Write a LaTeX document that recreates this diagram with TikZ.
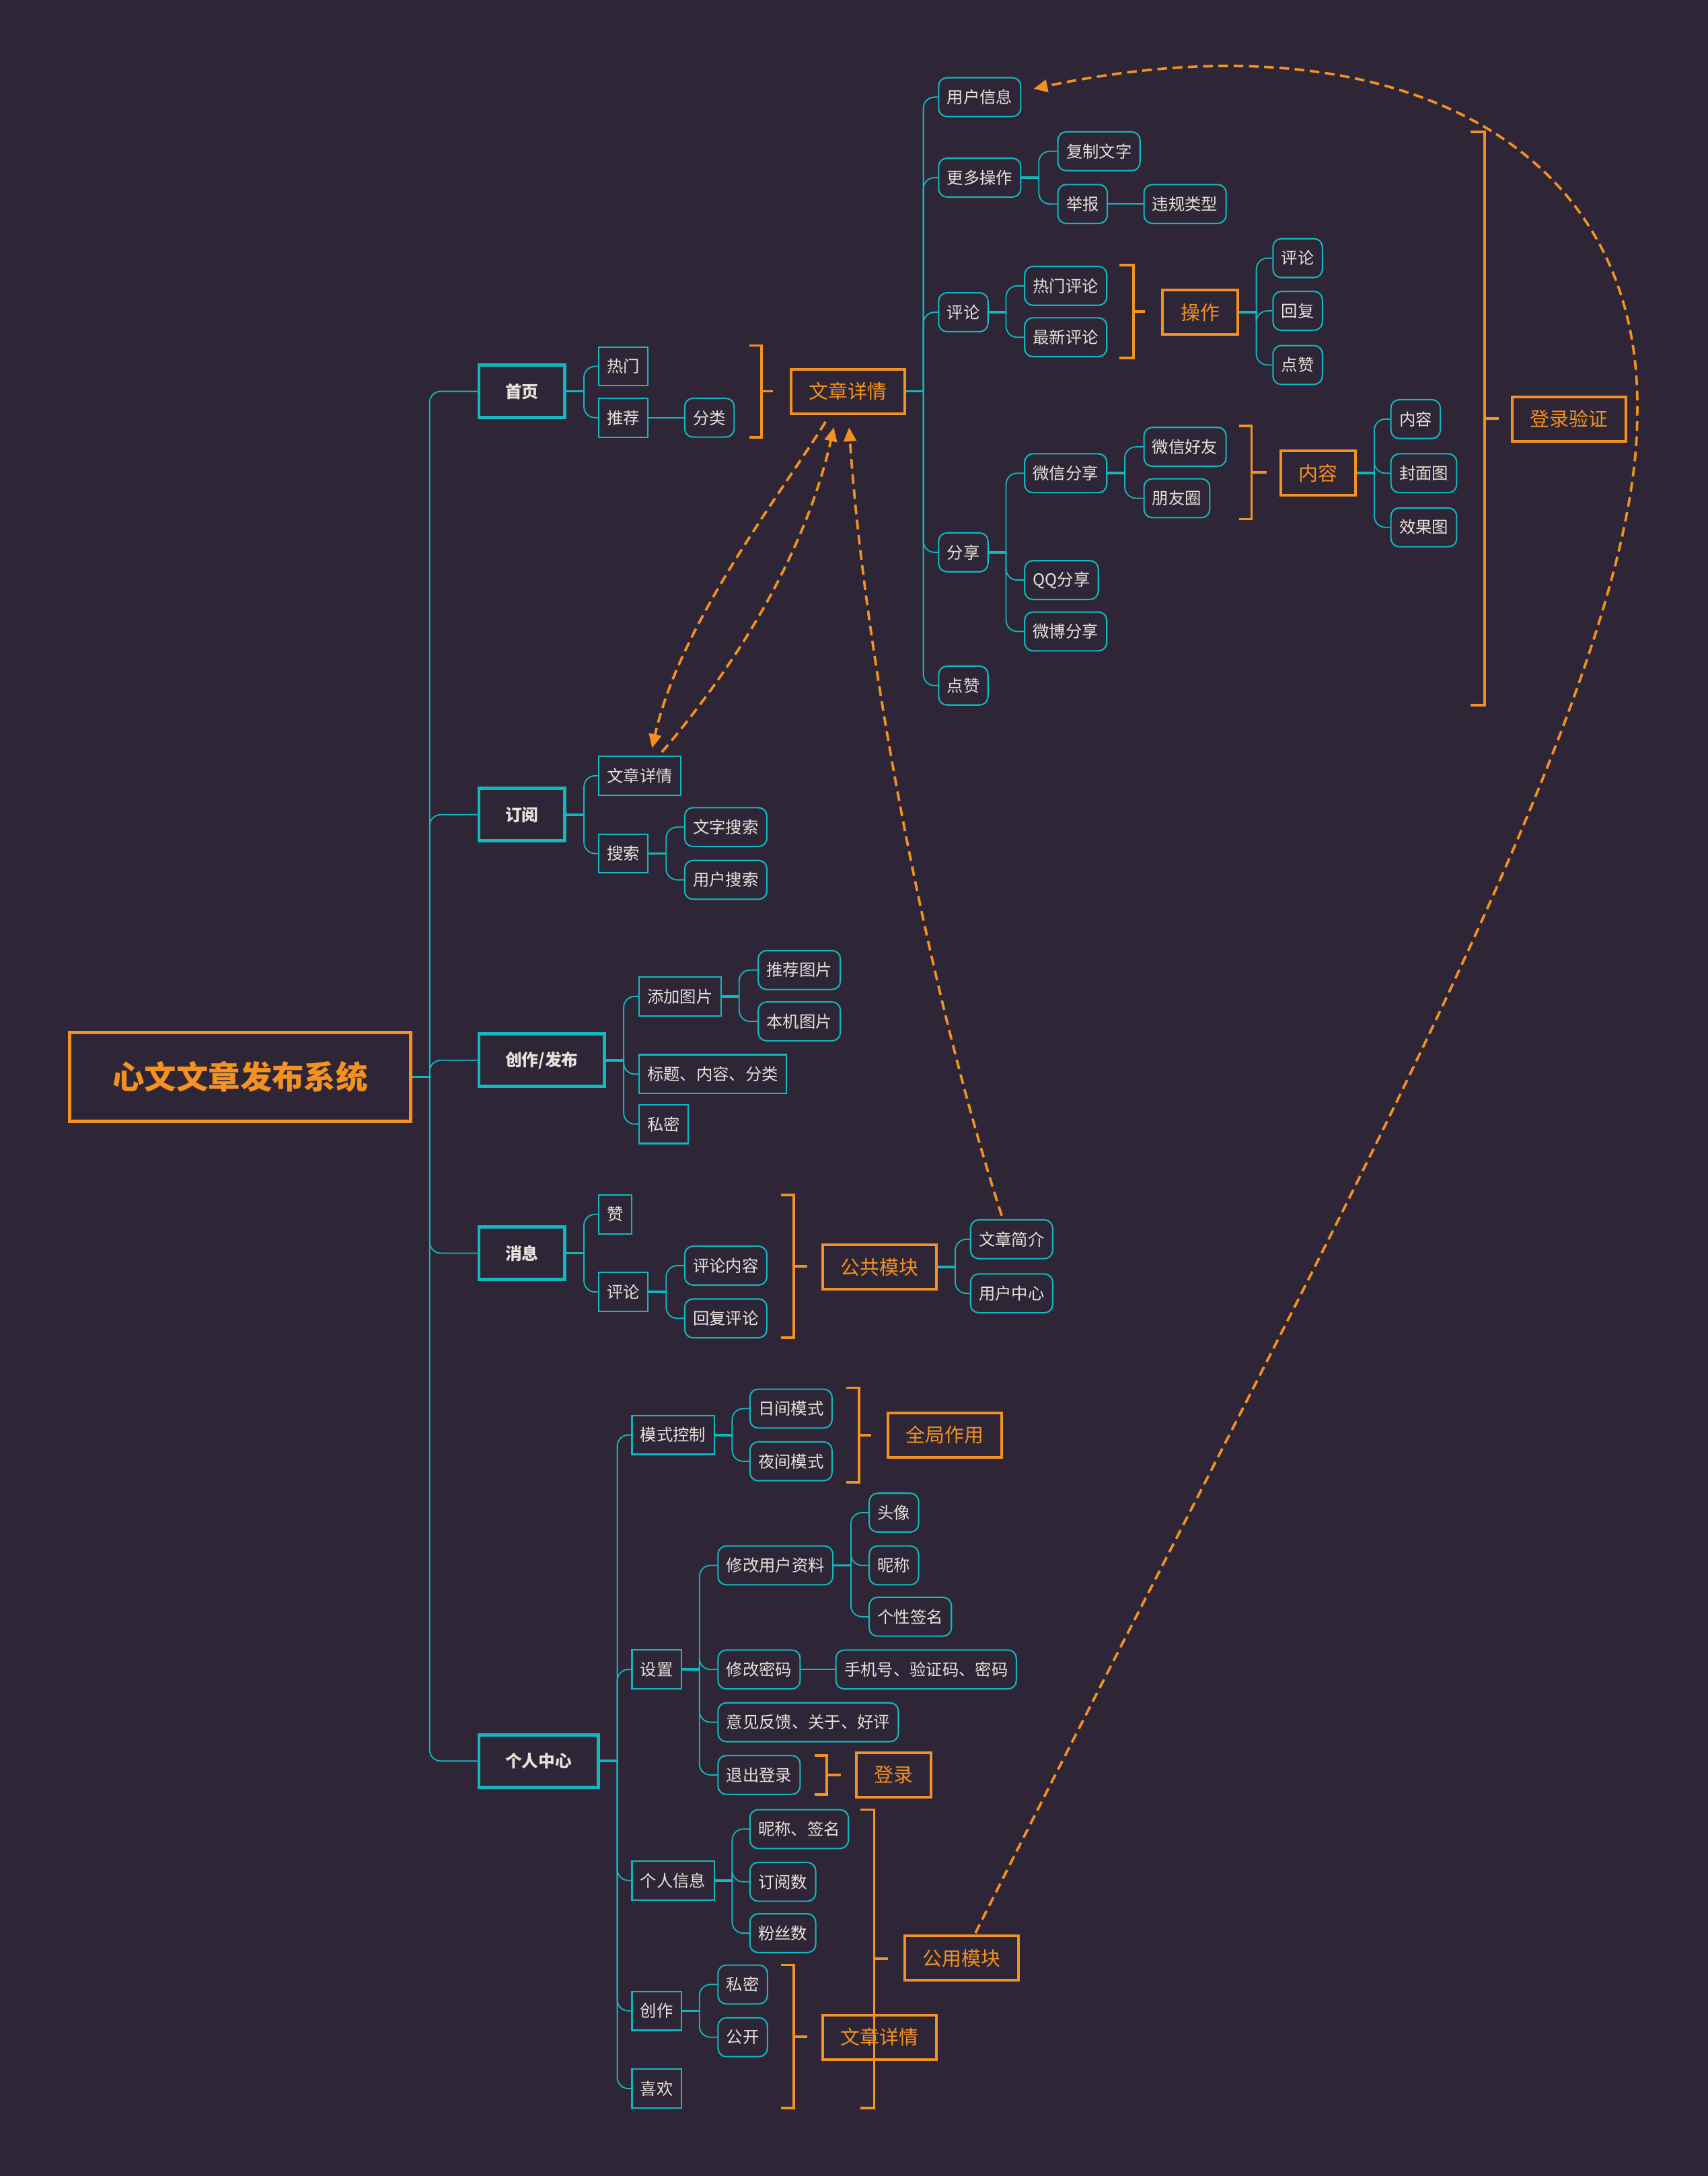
\documentclass[tikz,border=0pt]{standalone}
\usepackage{fontspec}
\setmainfont{Noto Sans CJK SC}
\usetikzlibrary{arrows.meta}
\definecolor{bg}{HTML}{2E2636}
\definecolor{tealc}{HTML}{12B8BF}
\definecolor{orng}{HTML}{F39121}
\definecolor{txt}{HTML}{E6E2DA}
\newcommand\mybranch[2]{%
  \draw[stub] (#1.east) -- ++(12.5,0);
  \foreach \c in {#2} {\draw[br] (#1.east) ++(12.5,0) |- (\c.west);}%
}
\newcommand\mybracket[5]{% x1 x2 ytop ybot xtick
  \draw[brk] (#1,#3) -- (#2,#3) -- (#2,#4) -- (#1,#4);
  \draw[brk] (#2,{(#3+#4)/2}) -- (#5,{(#3+#4)/2});
}
\begin{document}
\begin{tikzpicture}[x=0.5pt,y=-0.5pt,
 base/.style={anchor=west, font=\fontsize{5.9pt}{7pt}\selectfont, text=txt, inner xsep=3pt, inner ysep=0pt, minimum height=14pt},
 sq/.style={base, draw=tealc, line width=0.5pt},
 rd/.style={base, draw=tealc, line width=0.5pt, rounded corners=3pt},
 lvl/.style={anchor=west, draw=tealc, line width=1.2pt, text=txt, font=\bfseries\fontsize{6pt}{7pt}\selectfont, inner xsep=9.5pt, inner ysep=0pt, minimum height=19pt},
 obox/.style={anchor=west, draw=orng, line width=1pt, text=orng, font=\fontsize{7pt}{8pt}\selectfont, inner xsep=6.5pt, inner ysep=0pt, minimum height=16pt},
 br/.style={draw=tealc, line width=0.45pt, rounded corners=4pt},
 stub/.style={draw=tealc, line width=0.9pt},
 brk/.style={draw=orng, line width=0.9pt},
 dsh/.style={draw=orng, line width=0.9pt, dash pattern=on 3.5pt off 2pt, -{Triangle[length=5pt,width=4.5pt]}}
]
\fill[bg] (0,0) rectangle (1231,1568);
\useasboundingbox (0,0) rectangle (1231,1568);

% root
\node[anchor=west, draw=orng, line width=1.1pt, text=orng, font=\bfseries\fontsize{11.5pt}{13pt}\selectfont, inner xsep=15.5pt, inner ysep=0pt, minimum height=32pt] (root) at (49,776) {心文文章发布系统};

% level 1
\node[lvl] (sy) at (344,282) {首页};
\node[lvl] (dy) at (344,587) {订阅};
\node[lvl] (cf) at (344,764) {创作/发布};
\node[lvl] (xx) at (344,903) {消息};
\node[lvl] (gr) at (344,1269) {个人中心};

% 首页
\node[sq] (rm) at (431,264) {热门};
\node[sq] (tj) at (431,301) {推荐};
\node[rd] (fl) at (493,301) {分类};
\node[obox] (wz1) at (569,282) {文章详情};

\node[rd] (yhxx) at (676,70) {用户信息};
\node[rd] (gdcz) at (676,128) {更多操作};
\node[rd] (fzwz) at (762,109) {复制文字};
\node[rd] (jb) at (762,147) {举报};
\node[rd] (wglx) at (824,147) {违规类型};
\node[rd] (pl) at (676,225) {评论};
\node[rd] (rmpl) at (738,206) {热门评论};
\node[rd] (zxpl) at (738,243) {最新评论};
\node[obox] (czb) at (837,225) {操作};
\node[rd] (pl2) at (917,186) {评论};
\node[rd] (hf) at (917,224) {回复};
\node[rd] (dz2) at (917,263) {点赞};
\node[rd] (fx) at (676,398) {分享};
\node[rd] (wxfx) at (738,341) {微信分享};
\node[rd] (wxhy) at (824,322) {微信好友};
\node[rd] (pyq) at (824,359) {朋友圈};
\node[obox] (nrb) at (922,341) {内容};
\node[rd] (nr2) at (1002,302) {内容};
\node[rd] (fmt) at (1002,341) {封面图};
\node[rd] (xgt) at (1002,380) {效果图};
\node[rd] (qq) at (738,418) {QQ分享};
\node[rd] (wb) at (738,455) {微博分享};
\node[rd] (dz) at (676,494) {点赞};
\node[obox] (dlyz) at (1089,302) {登录验证};

% 订阅
\node[sq] (wz3) at (431,559) {文章详情};
\node[sq] (ss) at (431,615) {搜索};
\node[rd] (wzss) at (493,596) {文字搜索};
\node[rd] (yhss) at (493,634) {用户搜索};

% 创作/发布
\node[sq] (tjtp) at (460,718) {添加图片};
\node[rd] (tjtp2) at (546,699) {推荐图片};
\node[rd] (bjtp) at (546,736) {本机图片};
\node[sq] (btnr) at (460,774) {标题、内容、分类};
\node[sq] (sm) at (460,810) {私密};

% 消息
\node[sq] (zan) at (431,875) {赞};
\node[sq] (pl3) at (431,931) {评论};
\node[rd] (plnr) at (493,912) {评论内容};
\node[rd] (hfpl) at (493,950) {回复评论};
\node[obox] (ggmk) at (592,913) {公共模块};
\node[rd] (wzjj) at (699,893) {文章简介};
\node[rd] (yhzx) at (699,932) {用户中心};

% 个人中心
\node[sq] (msk) at (455,1034) {模式控制};
\node[rd] (rjms) at (540,1015) {日间模式};
\node[rd] (yjms) at (540,1053) {夜间模式};
\node[obox] (qjzy) at (639,1034) {全局作用};
\node[sq] (sz) at (455,1203) {设置};
\node[rd] (xgzl) at (517,1128) {修改用户资料};
\node[rd] (tx) at (626,1090) {头像};
\node[rd] (nc) at (626,1128) {昵称};
\node[rd] (gxqm) at (626,1165) {个性签名};
\node[rd] (xgmm) at (517,1203) {修改密码};
\node[rd] (sjh) at (602,1203) {手机号、验证码、密码};
\node[rd] (yjfk) at (517,1241) {意见反馈、关于、好评};
\node[rd] (tcdl) at (517,1279) {退出登录};
\node[obox] (dl) at (616,1279) {登录};
\node[sq] (grxx) at (455,1355) {个人信息};
\node[rd] (ncqm) at (540,1318) {昵称、签名};
\node[rd] (dys) at (540,1356) {订阅数};
\node[rd] (fss) at (540,1393) {粉丝数};
\node[sq] (czn) at (455,1449) {创作};
\node[rd] (sm2) at (517,1430) {私密};
\node[rd] (gk) at (517,1468) {公开};
\node[sq] (xh) at (455,1505) {喜欢};
\node[obox] (wz4) at (592,1468) {文章详情};
\node[obox] (gymk) at (651,1411) {公用模块};

% connectors
\mybranch{root}{sy,dy,cf,xx,gr}
\mybranch{sy}{rm,tj}
\draw[br] (tj.east) -- (fl.west);
\mybranch{wz1}{yhxx,gdcz,pl,fx,dz}
\mybranch{gdcz}{fzwz,jb}
\draw[br] (jb.east) -- (wglx.west);
\mybranch{pl}{rmpl,zxpl}
\mybranch{czb}{pl2,hf,dz2}
\mybranch{fx}{wxfx,qq,wb}
\mybranch{wxfx}{wxhy,pyq}
\mybranch{nrb}{nr2,fmt,xgt}
\mybranch{dy}{wz3,ss}
\mybranch{ss}{wzss,yhss}
\mybranch{cf}{tjtp,btnr,sm}
\mybranch{tjtp}{tjtp2,bjtp}
\mybranch{xx}{zan,pl3}
\mybranch{pl3}{plnr,hfpl}
\mybranch{ggmk}{wzjj,yhzx}
\mybranch{gr}{msk,sz,grxx,czn,xh}
\mybranch{msk}{rjms,yjms}
\mybranch{sz}{xgzl,xgmm,yjfk,tcdl}
\mybranch{xgzl}{tx,nc,gxqm}
\draw[br] (xgmm.east) -- (sjh.west);
\mybranch{grxx}{ncqm,dys,fss}
\mybranch{czn}{sm2,gk}

% brackets
\mybracket{540}{549}{249}{315}{557}
\mybracket{807}{817}{191}{258}{825}
\mybracket{893}{902}{307}{374}{913}
\mybracket{1060}{1070}{95}{508}{1080}
\mybracket{563}{572}{861}{964}{582}
\mybracket{610}{619}{1000}{1068}{628}
\mybracket{587}{596}{1265}{1293}{606}
\mybracket{563}{572}{1416}{1519}{582}
\mybracket{620}{630}{1304}{1519}{640}

% dashed arrows
\coordinate (a1s) at (595,304);
\coordinate (a1e) at (470,539);
\coordinate (a2s) at (477,542);
\coordinate (a2e) at (601,308);
\coordinate (a3s) at (722,876);
\coordinate (a3e) at (612,308);
\coordinate (a4s) at (703,1393);
\coordinate (a4m) at (1180,300);
\coordinate (a4e) at (745,64);
\draw[dsh] (a1s) .. controls (560,360) and (490,450) .. (a1e);
\draw[dsh] (a2s) .. controls (530,480) and (580,400) .. (a2e);
\draw[dsh] (a3s) .. controls (665,700) and (622,460) .. (a3e);
\draw[dsh] (a4s) .. controls (950,900) and (1180,500) .. (a4m) .. controls (1185,100) and (1000,10) .. (a4e);
\end{tikzpicture}
\end{document}
